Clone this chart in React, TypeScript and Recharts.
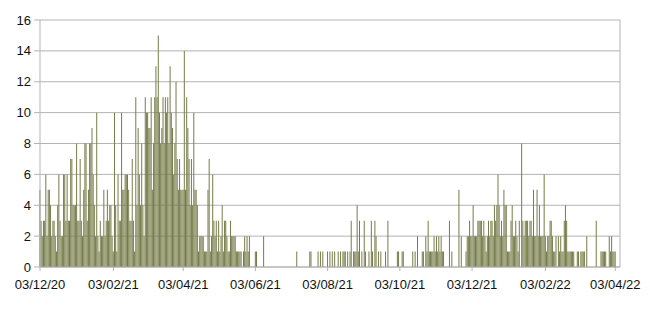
import { BarChart, Bar, XAxis, YAxis, CartesianGrid, ReferenceLine } from "recharts"

// daily counts, 03/12/20 .. 03/04/22, one small array per month
const dec20 = [5, 3, 2, 3, 3, 6, 2, 5, 5, 4, 2, 3, 3, 2, 1, 4, 6, 3, 2, 2, 6, 6, 3, 6, 3, 3, 7, 7, 4]
const jan21 = [4, 4, 8, 3, 3, 7, 3, 2, 5, 8, 8, 3, 5, 8, 8, 9, 6, 4, 2, 10, 2, 1, 3, 2, 2, 5, 2, 3, 5, 3, 4]
const feb21 = [4, 2, 1, 10, 4, 1, 6, 3, 3, 10, 5, 5, 6, 6, 6, 5, 3, 3, 7, 3, 1, 11, 4, 9, 6, 4, 8, 4]
const mar21 = [2, 11, 10, 10, 9, 9, 11, 5, 8, 11, 13, 11, 15, 10, 8, 9, 11, 8, 11, 10, 11, 8, 13, 10, 9, 6, 8, 12, 7, 5, 7]
const apr21 = [5, 5, 5, 14, 5, 11, 9, 7, 4, 7, 4, 10, 5, 5, 4, 1, 2, 2, 2, 2, 1, 1, 1, 5, 7, 1, 2, 6, 3, 2]
const may21 = [3, 1, 3, 1, 2, 4, 1, 3, 3, 2, 1, 1, 3, 2, 2, 2, 2, 1, 1, 1, 1, 1, 0, 1, 2, 1, 2, 1, 2, 0, 0]
const jun21 = [0, 0, 1, 1, 0, 0, 0, 0, 0, 2, 0, 0, 0, 0, 0, 0, 0, 0, 0, 0, 0, 0, 0, 0, 0, 0, 0, 0, 0, 0]
const jul21 = [0, 0, 0, 0, 0, 0, 0, 1, 0, 0, 0, 0, 0, 0, 0, 0, 0, 0, 1, 1, 0, 0, 0, 0, 0, 1, 0, 1, 0, 1, 0]
const aug21 = [0, 0, 1, 0, 1, 0, 1, 0, 1, 0, 0, 1, 0, 1, 0, 1, 1, 1, 0, 1, 0, 1, 3, 0, 1, 1, 1, 4, 1, 3, 0]
const sep21 = [1, 0, 3, 1, 0, 0, 1, 0, 3, 1, 0, 3, 2, 0, 1, 0, 1, 0, 0, 0, 1, 0, 3, 0, 0, 0, 0, 0, 0, 0]
const oct21 = [1, 1, 0, 0, 1, 1, 0, 0, 0, 0, 0, 0, 0, 1, 0, 1, 0, 2, 0, 0, 0, 1, 1, 0, 2, 1, 3, 1, 1, 1, 1]
const nov21 = [2, 1, 2, 1, 2, 1, 2, 1, 1, 0, 0, 0, 0, 3, 0, 1, 0, 0, 0, 0, 0, 5, 0, 2, 0, 0, 0, 1, 2, 2]
const dec21 = [3, 2, 2, 4, 2, 2, 2, 3, 3, 3, 3, 2, 3, 2, 1, 2, 3, 2, 3, 3, 2, 4, 3, 4, 6, 4, 2, 3, 2, 5, 4]
const jan22 = [4, 1, 1, 1, 3, 4, 2, 2, 3, 2, 1, 3, 0, 8, 3, 2, 3, 3, 3, 2, 3, 3, 2, 5, 2, 2, 5, 2, 4, 2, 2]
const feb22 = [2, 6, 2, 1, 2, 2, 3, 3, 2, 1, 1, 2, 0, 2, 1, 2, 1, 1, 3, 4, 3, 1, 1, 1, 1, 1, 1, 0]
const mar22 = [0, 1, 1, 0, 1, 1, 1, 1, 0, 2, 0, 0, 0, 0, 0, 0, 0, 3, 0, 0, 0, 1, 1, 1, 1, 1, 0, 0, 2, 1, 2]
const apr22 = [1, 1, 1]

const tickDays = [0, 62, 121, 182, 243, 304, 365, 427, 486]
const tickLabels = ["03/12/20", "03/02/21", "03/04/21", "03/06/21", "03/08/21", "03/10/21", "03/12/21", "03/02/22", "03/04/22"]
const yTicks = [0, 2, 4, 6, 8, 10, 12, 14, 16]

const counts = [
  ...dec20, ...jan21, ...feb21, ...mar21, ...apr21, ...may21, ...jun21, ...jul21, ...aug21,
  ...sep21, ...oct21, ...nov21, ...dec21, ...jan22, ...feb22, ...mar22, ...apr22,
]
const data = counts.map((v, i) => ({ day: i, count: v }))

const grid = "#b3b3b3"
const tickStyle = { fill: "#111", fontSize: 13, fontFamily: "'Liberation Sans', Arial, sans-serif" }

export default function App() {
  return (
    <div style={{ position: "absolute", left: 0, top: 0, background: "#fff" }}>
      <BarChart width={650} height={310} data={data} margin={{ top: 20, right: 30, bottom: 13, left: 0 }}>
        <CartesianGrid vertical={false} stroke={grid} />
        <XAxis
          type="number"
          dataKey="day"
          domain={[0, 490]}
          ticks={tickDays}
          tickFormatter={(d: number) => tickLabels[tickDays.indexOf(d)]}
          height={30}
          tickSize={4}
          tickMargin={9}
          stroke={grid}
          tick={tickStyle}
          interval={0}
        />
        <YAxis
          domain={[0, 16]}
          ticks={yTicks}
          width={40}
          tickSize={6}
          tickMargin={3}
          stroke={grid}
          tick={tickStyle}
          interval={0}
        />
        <ReferenceLine x={490} stroke={grid} />
        <Bar dataKey="count" fill="#767c48" barSize={1} isAnimationActive={false} />
      </BarChart>
    </div>
  )
}
